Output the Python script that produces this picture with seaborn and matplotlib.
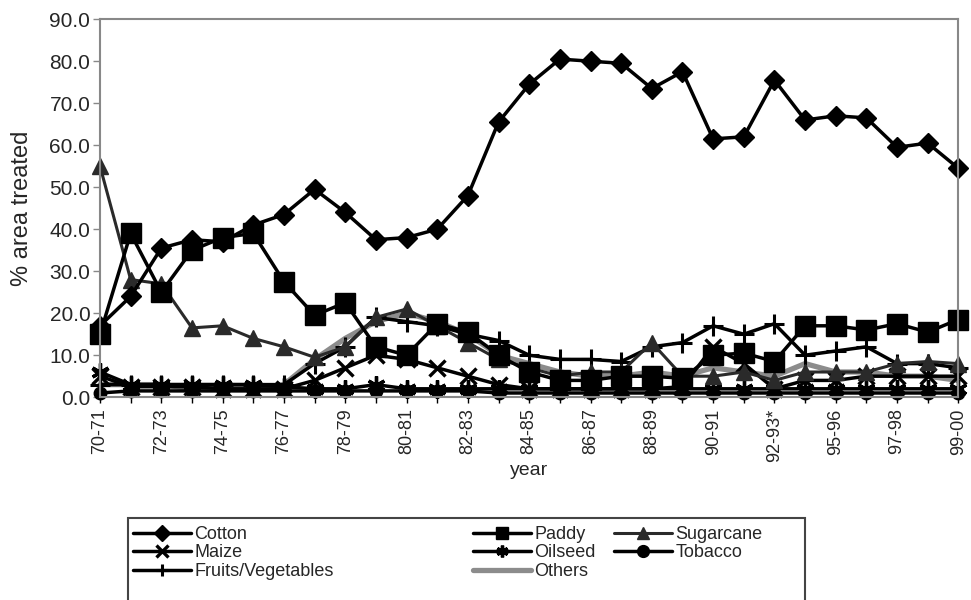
import numpy as np
import pandas as pd
import matplotlib
matplotlib.use("Agg")
import matplotlib.pyplot as plt
from matplotlib.patches import Rectangle
import seaborn as sns

years = ["70-71", "71-72", "72-73", "73-74", "74-75", "75-76", "76-77", "77-78",
         "78-79", "79-80", "80-81", "81-82", "82-83", "83-84", "84-85", "85-86",
         "86-87", "87-88", "88-89", "89-90", "90-91", "91-92", "92-93*", "94-95",
         "95-96", "96-97", "97-98", "98-99", "99-00"]

cotton = [17, 24, 35.5, 37.5, 37, 41, 43.5, 49.5, 44, 37.5, 38, 40, 48, 65.5, 74.5,
          80.5, 80, 79.5, 73.5, 77.5, 61.5, 62, 75.5, 66, 67, 66.5, 59.5, 60.5, 54.5]
paddy = [15, 39, 25, 35, 38, 39, 27.5, 19.5, 22.5, 12, 10, 17.5, 15.5, 10, 6,
         4, 4, 5, 5, 4.5, 10, 10.5, 8.5, 17, 17, 16, 17.5, 15.5, 18.5]
sugarcane = [55, 28, 27, 16.5, 17, 14, 12, 9.5, 12, 19, 21, 17, 13, 9, 7,
             5, 6, 6, 13, 5, 5, 6, 4, 6, 6, 6, 8, 8.5, 8]
maize = [5, 2.5, 2.5, 2.5, 2, 2, 2, 4, 7, 10, 9, 7, 5, 3, 2,
         2, 2, 2, 2, 2.5, 12, 8, 2, 4, 4, 5, 5, 5, 5]
oilseed = [6, 3, 3, 3, 3, 3, 2.5, 2, 2, 3, 2, 2, 2, 2, 2,
           2, 2, 2, 2, 2, 2, 2, 2, 2, 2, 2, 2, 2, 2]
tobacco = [1, 1.5, 1.5, 1.5, 1.5, 1.5, 1.5, 1.5, 1.5, 1.5, 1.5, 1.5, 1.5, 1, 1,
           1, 1, 1, 1, 1, 1, 1, 1, 1, 1, 1, 1, 1, 1]
fruits_veg = [3, 3, 3, 3, 3, 3, 3, 8, 12, 19, 18, 17, 15, 13.5, 10,
              9, 9, 8.5, 12, 13, 17, 15, 17.5, 10, 11, 12, 8, 8, 7]
others = [3, 3, 3, 2, 2, 2, 3, 9, 14, 18, 20, 18, 15, 10, 8,
          6, 5, 5, 6, 5, 7, 6, 5, 8, 6, 6, 5, 5, 4]

legend_columns = [["Cotton", "Maize", "Fruits/Vegetables"],
                  ["Paddy", "Oilseed", "Others"],
                  ["Sugarcane", "Tobacco"]]
series = {
    "Cotton": cotton, "Paddy": paddy, "Sugarcane": sugarcane, "Maize": maize,
    "Oilseed": oilseed, "Tobacco": tobacco, "Fruits/Vegetables": fruits_veg,
    "Others": others,
}

rows = []
for crop, vals in series.items():
    for i, v in enumerate(vals):
        rows.append({"idx": i, "year": years[i], "crop": crop, "value": v})
df = pd.DataFrame(rows)

sns.set_theme(style="white")
plt.rcParams["font.family"] = ["Liberation Sans", "DejaVu Sans"]

palette = {"Cotton": "black", "Paddy": "black", "Sugarcane": "#2a2a2a",
           "Maize": "black", "Oilseed": "black", "Tobacco": "black",
           "Fruits/Vegetables": "black", "Others": "#8c8c8c"}
markers = {"Cotton": "D", "Paddy": "s", "Sugarcane": "^", "Maize": "x",
           "Oilseed": (6, 2, 0), "Tobacco": "o", "Fruits/Vegetables": "+",
           "Others": ""}
msize = {"Cotton": 10.5, "Paddy": 14, "Sugarcane": 11, "Maize": 11,
         "Oilseed": 13, "Tobacco": 9, "Fruits/Vegetables": 15, "Others": 0}
mew = {"Cotton": 1, "Paddy": 1, "Sugarcane": 1, "Maize": 2.4,
       "Oilseed": 2.4, "Tobacco": 1, "Fruits/Vegetables": 2.2, "Others": 1}
lw = {"Cotton": 2.5, "Paddy": 2.5, "Sugarcane": 2.2, "Maize": 2.5,
      "Oilseed": 2.5, "Tobacco": 2.5, "Fruits/Vegetables": 2.5, "Others": 3.8}

fig = plt.figure(figsize=(9.71, 6.0), dpi=100)
ax = fig.add_axes([0.103, 0.338, 0.884, 0.630])

# background series first so cotton and paddy stay on top
draw_order = ["Others", "Tobacco", "Oilseed", "Maize", "Fruits/Vegetables",
              "Sugarcane", "Paddy", "Cotton"]
handles = {}
for crop in draw_order:
    sub = df[df["crop"] == crop]
    sns.lineplot(data=sub, x="idx", y="value", ax=ax, color=palette[crop],
                 marker=markers[crop] if markers[crop] else None,
                 markersize=msize[crop], markeredgewidth=mew[crop],
                 markeredgecolor=palette[crop], linewidth=lw[crop],
                 sort=False, clip_on=False, legend=False)
    handles[crop] = ax.lines[-1]

ax.set_xlim(0, len(years) - 1)
ax.set_ylim(0, 90)
ax.set_yticks(np.arange(0, 91, 10))
ax.set_yticklabels([f"{v:.1f}" for v in np.arange(0, 91, 10)], fontsize=15)
ax.set_xticks(range(len(years)))
ax.set_xticklabels([y if i % 2 == 0 else "" for i, y in enumerate(years)],
                   rotation=90, fontsize=13)
ax.tick_params(axis="y", length=5, width=1, color="#888888", pad=2, left=True)
ax.tick_params(axis="x", length=4, width=1, color="black", pad=4, bottom=True)
for s in ax.spines.values():
    s.set_color("#888888")
    s.set_linewidth(1.5)
ax.set_xlabel("year", fontsize=14, labelpad=0)
ax.set_ylabel("% area treated", fontsize=17, labelpad=12)

# legend: frame box running off the bottom edge, three columns inside it
W, H = 971.0, 600.0
frame = Rectangle((128 / W, -0.05), (805 - 128) / W, 0.05 + (H - 518) / H,
                  transform=fig.transFigure, facecolor="white",
                  edgecolor="#444444", linewidth=1.5, zorder=0)
fig.patches.append(frame)

col_x = [133, 473, 614]
for names, x0 in zip(legend_columns, col_x):
    leg = fig.legend([handles[c] for c in names], names,
                     loc="upper left", bbox_to_anchor=(x0 / W, 1 - 526 / H),
                     ncol=1, fontsize=13, frameon=False,
                     handlelength=3.2, handletextpad=0.2, labelspacing=0.08,
                     borderpad=0, borderaxespad=0)
    for h in leg.legend_handles:
        h.set_markersize(8.5)

fig.savefig("out.png", dpi=100)
